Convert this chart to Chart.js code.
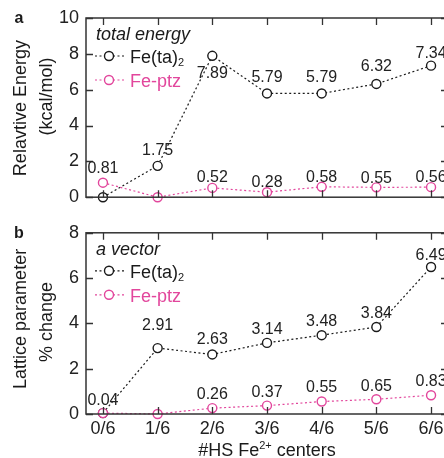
<!DOCTYPE html>
<html>
<head>
<meta charset="utf-8">
<script src="https://cdn.jsdelivr.net/npm/chart.js@4.4.1/dist/chart.umd.min.js"></script>
<style>
    html, body { margin: 0; padding: 0; background: #fff; }
    body { width: 444px; height: 458px; overflow: hidden; position: relative; }
    .panel { position: absolute; left: 0; width: 470px; }
    #panel-a { top: 0; height: 215px; }
    #panel-b { top: 215px; height: 243px; }
</style>
</head>
<body>
<div class="panel" id="panel-a"><canvas id="chart-energy"></canvas></div>
<div class="panel" id="panel-b"><canvas id="chart-lattice"></canvas></div>
<script>
// --- Data ---
const categories = ['0/6', '1/6', '2/6', '3/6', '4/6', '5/6', '6/6'];

const energyFeTa = [0, 1.75, 7.89, 5.79, 5.79, 6.32, 7.34];
const energyFePtz = [0.81, 0, 0.52, 0.28, 0.58, 0.55, 0.56];
const energyTicks = [0, 2, 4, 6, 8, 10];

const latticeFeTa = [0.04, 2.91, 2.63, 3.14, 3.48, 3.84, 6.49];
const latticeFePtz = [0.04, 0, 0.26, 0.37, 0.55, 0.65, 0.83];
const latticeTicks = [0, 2, 4, 6, 8];

// label offsets in px (null = no label)
const energyTaLabelDy = [null, -15, 18, -16, -16, -17, -12];
const energyPtzLabelDy = [-14, null, -10, -10, -9, -9, -10];
const latticeTaLabelDy = [-13, -22, -15, -13, -14, -13, -11];
const latticePtzLabelDy = [null, null, -14, -13, -14, -13, -14];

const BLACK = '#1a1a1a';
const PINK = '#e2469c';
const FONT = "'Liberation Sans', Arial, sans-serif";

const toPoints = arr => arr.map((v, i) => ({ x: i, y: v }));

// draw a sequence of text runs (for sub/superscripts)
const drawRuns = (ctx, runs, x, y, align) => {
    let total = 0;
    runs.forEach(r => {
        ctx.font = `${r.style || ''} ${r.size}px ${FONT}`;
        r.w = ctx.measureText(r.text).width;
        total += r.w;
    });
    let cx = align === 'center' ? x - total / 2 : x;
    ctx.textAlign = 'left';
    ctx.textBaseline = 'alphabetic';
    runs.forEach(r => {
        ctx.font = `${r.style || ''} ${r.size}px ${FONT}`;
        ctx.fillStyle = r.color || BLACK;
        ctx.fillText(r.text, cx, y + (r.dy || 0));
        cx += r.w;
    });
};

const decorPlugin = {
    id: 'decor',
    afterDraw(chart, args, opts) {
        const { ctx, chartArea: a, scales } = chart;
        const xs = scales.x, ys = scales.y;
        ctx.save();

        // frame
        ctx.strokeStyle = '#333';
        ctx.lineWidth = 1.5;
        ctx.strokeRect(a.left, a.top, a.right - a.left, a.bottom - a.top);

        // inward ticks
        ctx.lineWidth = 1.3;
        ctx.beginPath();
        categories.forEach((c, i) => {
            const px = Math.round(xs.getPixelForValue(i)) + 0.5;
            ctx.moveTo(px, a.top); ctx.lineTo(px, a.top + 7);
            ctx.moveTo(px, a.bottom); ctx.lineTo(px, a.bottom - 7);
        });
        opts.yTicks.forEach(v => {
            const py = Math.round(ys.getPixelForValue(v)) + 0.5;
            ctx.moveTo(a.left, py); ctx.lineTo(a.left + 7, py);
            ctx.moveTo(a.right, py); ctx.lineTo(a.right - 7, py);
        });
        ctx.stroke();

        // panel letter
        ctx.fillStyle = BLACK;
        ctx.font = `bold 16px ${FONT}`;
        ctx.textAlign = 'center';
        ctx.textBaseline = 'middle';
        ctx.fillText(opts.letter, 19, a.top + 1);

        // y axis title (two lines, rotated)
        const midY = (a.top + a.bottom) / 2;
        ctx.font = `18px ${FONT}`;
        opts.yTitle.forEach((line, i) => {
            ctx.save();
            ctx.translate(opts.yTitleX[i], midY + opts.yTitleDy[i]);
            ctx.rotate(-Math.PI / 2);
            ctx.fillText(line, 0, 0);
            ctx.restore();
        });

        // legend inside the plot
        drawRuns(ctx, [{ text: opts.legendTitle, size: 18, style: 'italic' }], a.left + 10, a.top + 22);
        const rows = [
            { color: BLACK, runs: [{ text: 'Fe(ta)', size: 18 }, { text: '2', size: 11, dy: 3 }] },
            { color: PINK, runs: [{ text: 'Fe-ptz', size: 18, color: PINK }] }
        ];
        rows.forEach((row, i) => {
            const ry = a.top + 38 + i * 24;
            ctx.strokeStyle = row.color;
            ctx.lineWidth = 1.2;
            ctx.setLineDash([2, 2.5]);
            ctx.beginPath();
            ctx.moveTo(a.left + 9, ry); ctx.lineTo(a.left + 39, ry);
            ctx.stroke();
            ctx.setLineDash([]);
            ctx.fillStyle = '#fff';
            ctx.lineWidth = 1.4;
            ctx.beginPath();
            ctx.arc(a.left + 23, ry, 4.5, 0, Math.PI * 2);
            ctx.fill(); ctx.stroke();
            drawRuns(ctx, row.runs, a.left + 44, ry + 7);
        });

        // value labels
        ctx.font = `16px ${FONT}`;
        ctx.textAlign = 'center';
        ctx.textBaseline = 'middle';
        ctx.fillStyle = '#222';
        opts.labels.forEach(set => {
            set.values.forEach((v, i) => {
                const dy = set.dy[i];
                if (dy === null) return;
                ctx.fillText(v.toFixed(2), xs.getPixelForValue(i), ys.getPixelForValue(v) + dy);
            });
        });

        // x axis title
        if (opts.xTitle) {
            drawRuns(ctx, [
                { text: '#HS Fe', size: 18 },
                { text: '2+', size: 11, dy: -7 },
                { text: ' centers', size: 18 }
            ], (a.left + a.right) / 2, chart.height - 2, 'center');
        }
        ctx.restore();
    }
};

const seriesStyle = (color, order) => ({
    borderColor: color,
    borderWidth: 1.2,
    borderDash: [2, 2.5],
    pointStyle: 'circle',
    pointRadius: 4.5,
    pointBorderWidth: 1.4,
    pointBackgroundColor: '#fff',
    pointBorderColor: color,
    tension: 0,
    clip: false,
    order
});

const makeChart = (id, cfg) => {
    const ctx = document.getElementById(id);
    return new Chart(ctx, {
        type: 'line',
        data: {
            datasets: [
                { data: toPoints(cfg.ta), ...seriesStyle(BLACK, 1) },
                { data: toPoints(cfg.ptz), ...seriesStyle(PINK, 0) }
            ]
        },
        options: {
            responsive: true,
            maintainAspectRatio: false,
            animation: false,
            layout: { padding: cfg.padding },
            plugins: {
                legend: { display: false },
                tooltip: { enabled: false },
                decor: cfg.decor
            },
            scales: {
                x: {
                    type: 'linear',
                    min: -0.31,
                    max: 6.31,
                    display: cfg.showX,
                    grid: { display: false, drawTicks: false },
                    border: { display: false },
                    afterBuildTicks: s => { s.ticks = categories.map((c, i) => ({ value: i })); },
                    afterFit: s => { if (cfg.showX) s.height = 44; },
                    ticks: {
                        autoSkip: false,
                        maxRotation: 0,
                        padding: 4,
                        color: '#222',
                        font: { family: FONT, size: 18 },
                        callback: v => categories[v]
                    }
                },
                y: {
                    min: 0,
                    max: cfg.yTicks[cfg.yTicks.length - 1],
                    grid: { display: false, drawTicks: false },
                    border: { display: false },
                    afterBuildTicks: s => { s.ticks = cfg.yTicks.map(v => ({ value: v })); },
                    afterFit: s => { s.width = 86; },
                    ticks: {
                        padding: 7,
                        color: '#222',
                        font: { family: FONT, size: 18 }
                    }
                }
            }
        },
        plugins: [decorPlugin]
    });
};

document.addEventListener('DOMContentLoaded', () => {
    makeChart('chart-energy', {
        ta: energyFeTa,
        ptz: energyFePtz,
        yTicks: energyTicks,
        showX: false,
        padding: { left: 0, right: 22, top: 18, bottom: 8 },
        decor: {
            letter: 'a',
            yTicks: energyTicks,
            yTitle: ['Relavtive Energy', '(kcal/mol)'],
            yTitleX: [21, 47],
            yTitleDy: [0.5, -11],
            legendTitle: 'total energy',
            labels: [
                { values: energyFeTa, dy: energyTaLabelDy },
                { values: energyFePtz, dy: energyPtzLabelDy }
            ],
            xTitle: false
        }
    });

    makeChart('chart-lattice', {
        ta: latticeFeTa,
        ptz: latticeFePtz,
        yTicks: latticeTicks,
        showX: true,
        padding: { left: 0, right: 22, top: 10, bottom: 0 },
        decor: {
            letter: 'b',
            yTicks: latticeTicks,
            yTitle: ['Lattice parameter', '% change'],
            yTitleX: [21, 47],
            yTitleDy: [-4.5, -1.5],
            legendTitle: 'a vector',
            labels: [
                { values: latticeFeTa, dy: latticeTaLabelDy },
                { values: latticePtzLabelDy.map((d, i) => latticeFePtz[i]), dy: latticePtzLabelDy }
            ],
            xTitle: true
        }
    });
});
</script>
</body>
</html>
